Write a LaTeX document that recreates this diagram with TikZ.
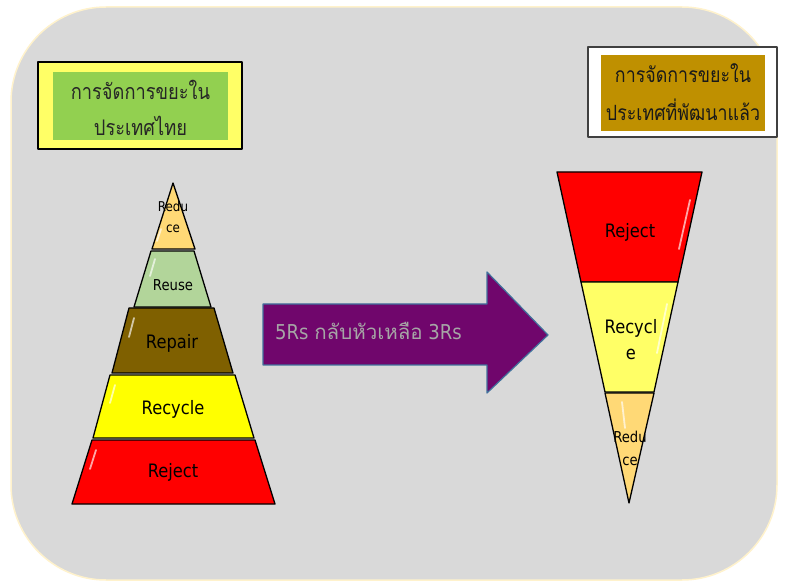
\documentclass[tikz,border=0pt]{standalone}
\usepackage{fontspec}
\setmainfont{DejaVu Sans}[FakeStretch=0.88]
\newfontfamily\thai[Script=Thai,FakeStretch=0.85]{Loma}
\newfontfamily\thaiw[Script=Thai]{Loma}
\definecolor{panel}{HTML}{D9D9D9}
\definecolor{panelrim}{HTML}{FFF2CC}
\definecolor{lightyel}{HTML}{FFFF66}
\definecolor{leafgreen}{HTML}{92D050}
\definecolor{gold}{HTML}{BF9000}
\definecolor{arrowfill}{RGB}{112,6,108}
\definecolor{arrowrim}{HTML}{41719C}
\definecolor{arrowtext}{HTML}{A6A6A6}
\definecolor{reducecol}{HTML}{FFD976}
\definecolor{reusecol}{HTML}{B2D59A}
\definecolor{repaircol}{HTML}{7F6000}
\definecolor{recyclecol}{HTML}{FFFF00}
\definecolor{rejectcol}{HTML}{FF0000}
\begin{document}
\begin{tikzpicture}[x=1pt,y=-1pt,line join=round,
  slab/.style={draw=black,line width=1.3pt},
  lab/.style={font=\fontsize{18.5}{22}\selectfont,text=black,inner sep=0pt,align=center},
  gloss/.style={white,line width=1.8pt,line cap=round,opacity=0.65},
  thaititle/.style={font=\thai\fontsize{21.5}{36}\selectfont,text=black!85,inner sep=0pt,align=center}]
\useasboundingbox (0,0) rectangle (788,588);
\fill[white] (0,0) rectangle (788,588);
% panel
\draw[fill=panel,draw=panelrim,line width=1.5pt,rounded corners=95pt] (11,7) rectangle (777,580);
% left title
\draw[fill=lightyel,draw=black,line width=2pt] (38,62) rectangle (242,149);
\fill[leafgreen] (53,72) rectangle (228,140);
\node[thaititle] (ttlA) at (140.5,108) {การจัดการขยะใน\\ประเทศไทย};
% right title
\draw[fill=white,draw=black!75,line width=1.2pt] (588,47) rectangle (777,137);
\fill[gold] (601,55) rectangle (765,131);
\node[thaititle,text=black!90,font=\thai\fontsize{21}{38}\selectfont] (ttlB) at (683,92) {การจัดการขยะใน\\ประเทศที่พัฒนาแล้ว};
% left pyramid
\draw[slab,fill=reducecol] (173,183) -- (195,249) -- (152,249) -- cycle;
\draw[slab,fill=reusecol] (151,251) -- (194,251) -- (211,307) -- (134,307) -- cycle;
\draw[slab,fill=repaircol] (129,308) -- (214,308) -- (233,373) -- (112,373) -- cycle;
\draw[slab,fill=recyclecol] (110,375) -- (235,375) -- (254,438) -- (93,438) -- cycle;
\draw[slab,fill=rejectcol] (92,440) -- (255,440) -- (275,504) -- (72,504) -- cycle;
\draw[gloss] (161,229) -- (157,241);
\draw[gloss] (155,259) -- (150,276);
\draw[gloss] (134,318) -- (129,337);
\draw[gloss] (115,385) -- (110,403);
\draw[gloss] (96,450) -- (90,469);
\node[lab,font=\fontsize{13.5}{21}\selectfont] (lRed) at (173,216.5) {Redu\\ce};
\node[lab,font=\fontsize{15}{18}\selectfont] (lReu) at (173,285) {Reuse};
\node[lab] (lRep) at (172,343) {Repair};
\node[lab] (lRec) at (173,409) {Recycle};
\node[lab] (lRej) at (173,472) {Reject};
% arrow
\draw[fill=arrowfill,draw=arrowrim,line width=1.2pt] (263,304) -- (487,304) -- (487,272) -- (548,335) -- (487,393) -- (487,365) -- (263,365) -- cycle;
\node[anchor=west,text=arrowtext,inner sep=0pt,font=\fontsize{20.5}{24}\selectfont] (arw) at (275,331) {5Rs {\thaiw กลับหัวเหลือ} 3Rs};
% right inverted pyramid
\draw[slab,fill=rejectcol] (557,172) -- (702,172) -- (678,282) -- (581,282) -- cycle;
\draw[slab,fill=lightyel] (581,282) -- (678,282) -- (654,392) -- (605,392) -- cycle;
\draw[slab,fill=reducecol] (605,393) -- (654,393) -- (629,503) -- cycle;
\draw[gloss] (690,200) -- (679,249);
\draw[gloss] (667,304) -- (657,353);
\draw[gloss] (622,402) -- (625,428);
\node[lab] (rRej) at (630,232) {Reject};
\node[lab,font=\fontsize{18.5}{26}\selectfont] (rRec) at (631,340) {Recycl\\e};
\node[lab,font=\fontsize{15}{23}\selectfont] (rRed) at (630,448.5) {Redu\\ce};
\end{tikzpicture}
\end{document}
